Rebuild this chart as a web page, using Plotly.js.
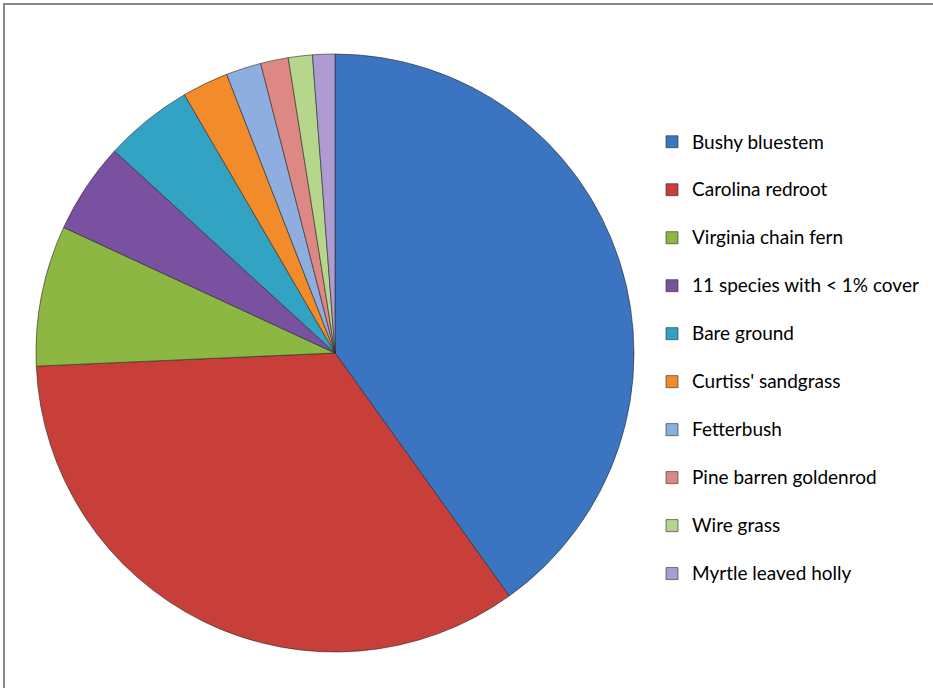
<!DOCTYPE html>
<html>
<head>
<meta charset="utf-8">
<script src="https://cdn.plot.ly/plotly-3.0.1.min.js"></script>
<style>
  html, body { margin: 0; padding: 0; background: #ffffff; }
  #chart { width: 933px; height: 688px; }
</style>
</head>
<body>
<div id="chart"></div>
<script>
// ---- data ----
var species = [
  "Bushy bluestem",
  "Carolina redroot",
  "Virginia chain fern",
  "11 species with < 1% cover",
  "Bare ground",
  "Curtiss' sandgrass",
  "Fetterbush",
  "Pine barren goldenrod",
  "Wire grass",
  "Myrtle leaved holly"
];
var percentCover = [40.1, 34.2, 7.6, 4.9, 4.8, 2.5, 1.9, 1.5, 1.3, 1.2];
var sliceColors = [
  "#3b74c0", "#c83f39", "#8cb742", "#7a50a1", "#32a3c3",
  "#f28c2a", "#8eaee0", "#de8886", "#b6d68b", "#ae9bd1"
];

function esc(s) { return s.replace(/&/g, "&amp;").replace(/</g, "&lt;").replace(/>/g, "&gt;"); }
var legendLabels = species.map(function (s) {
  return '<span style="font-size:19px">' + esc(s) + '</span><br> ';
});

var W = 933, H = 688;
var cx = 335, cyTop = 353, R = 299;

var trace = {
  type: "pie",
  labels: legendLabels,
  values: percentCover,
  sort: false,
  direction: "clockwise",
  rotation: 0,
  textinfo: "none",
  hoverinfo: "skip",
  marker: { colors: sliceColors, line: { color: "rgba(40,40,40,0.6)", width: 1 } },
  domain: {
    x: [(cx - R) / W, (cx + R) / W],
    y: [(H - cyTop - R) / H, (H - cyTop + R) / H]
  }
};

var layout = {
  width: W, height: H,
  margin: { l: 0, r: 0, t: 0, b: 0 },
  paper_bgcolor: "#ffffff",
  showlegend: true,
  legend: {
    x: 652 / W, xanchor: "left",
    y: 1 - 124 / H, yanchor: "top",
    valign: "top",
    font: { family: "Lato, 'Open Sans', sans-serif", size: 17.3, color: "#000000" },
    bgcolor: "rgba(0,0,0,0)"
  },
  shapes: [{
    type: "rect", xref: "paper", yref: "paper",
    x0: 4 / W, x1: 1.05, y0: -0.05, y1: 1 - 4 / H,
    line: { color: "#888888", width: 2 }, fillcolor: "rgba(0,0,0,0)"
  }]
};

Plotly.newPlot("chart", [trace], layout, { displayModeBar: false, staticPlot: true });
</script>
</body>
</html>
